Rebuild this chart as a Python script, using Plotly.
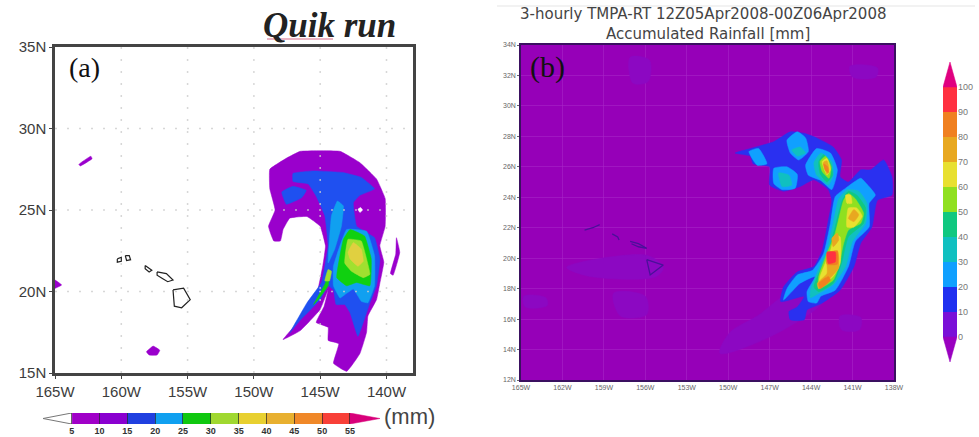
import plotly.graph_objects as go

W, H = 979, 437

# ---------- tick data ----------
a_lon_ticks = [-165, -160, -155, -150, -145, -140]
a_lon_labels = ["165W", "160W", "155W", "150W", "145W", "140W"]
a_lat_ticks = [15, 20, 25, 30, 35]
a_lat_labels = ["15N", "20N", "25N", "30N", "35N"]
b_lon_ticks = [-165, -162, -159, -156, -153, -150, -147, -144, -141, -138]
b_lon_labels = ["165W", "162W", "159W", "156W", "153W", "150W", "147W", "144W", "141W", "138W"]
b_lat_ticks = [12, 14, 16, 18, 20, 22, 24, 26, 28, 30, 32, 34]
b_lat_labels = ["12N", "14N", "16N", "18N", "20N", "22N", "24N", "26N", "28N", "30N", "32N", "34N"]

# ---------- colour scales ----------
a_bar_edges = [5, 10, 15, 20, 25, 30, 35, 40, 45, 50, 55]
a_bar_colors = ["#a000c8", "#8a00d0", "#2040e0", "#10a0f0", "#10c810", "#a0d830",
                "#e8d030", "#e8b030", "#f08828", "#f84038"]
b_bar_edges = [0, 10, 20, 30, 40, 50, 60, 70, 80, 90]
b_bar_colors = ["#7a10d8", "#2030f0", "#10a0ff", "#10c0c0", "#10c880", "#90e020",
                "#e8e030", "#e8a820", "#f08020", "#ff3040"]

A_PURPLE = "#9a00cc"; A_BLUE = "#1f50f0"; A_LBLUE = "#10a0f0"; A_GREEN = "#10d010"
A_YGREEN = "#a0e030"; A_YELLOW = "#e0d040"
B_BG = "#9600b8"; B_PATCH = "#8c08c2"

# ---------- panel (a) contour regions, [lon, lat] ----------
a_outer = [[-148.8,27.5],[-147.5,28.2],[-146.5,28.6],[-143.5,28.6],[-142,27.9],[-140.75,26.9],[-140.1,25.7],
           [-140.1,24],[-140.5,22.8],[-140.2,21.8],[-140.5,20.5],[-140.75,19.5],[-141.4,18.5],[-141.5,17.5],
           [-142,16.2],[-143,15.1],[-144,15.6],[-143.6,16.8],[-144.4,17],[-144.4,17.8],[-145.3,18.1],
           [-144.7,19.1],[-144.4,20.1],[-145,18.9],[-146.5,17.6],[-147.8,17.05],[-146.5,18.3],[-145.3,19.7],
           [-144.8,21.6],[-144.6,22.8],[-145,24],[-146,24.6],[-147.3,24.5],[-147.8,23.8],[-148,23.1],
           [-148.5,23.1],[-148.9,24],[-148.4,25],[-148.8,26.3]]
a_streak_nw = [[-163.2,27.8],[-162.3,28.3],[-162.2,28.15],[-163.1,27.7]]
a_blob_s = [[-158.1,16.3],[-157.6,16.65],[-157.1,16.4],[-157.3,16.1],[-157.9,16.1]]
a_blob_w = [[-165,20.7],[-164.5,20.4],[-165,20.2]]
a_streak_e = [[-139.25,23.3],[-139,22.4],[-139.5,21],[-139.7,21.1],[-139.3,22.3]]
a_blue = [[-147.05,27.25],[-145.5,27.4],[-143.3,27.3],[-141.9,27],[-140.9,26.3],[-142,25.9],[-142.5,25.45],
          [-142.25,24],[-140.9,23.3],[-140.5,22],[-140.75,20.35],[-141.25,19.3],[-141.75,18.1],[-142.15,17.25],
          [-142.75,18.7],[-143.15,19.2],[-143.8,19.2],[-144,20.1],[-144.4,20.35],[-145,19.5],[-146.55,18.2],
          [-147.3,17.45],[-146,19.3],[-144.9,20.55],[-144.65,21.55],[-144.4,22.8],[-144.65,24.65],
          [-145.3,25.85],[-145.9,26.6],[-147.05,26.75]]
a_blue_blob = [[-147.9,26.1],[-147.05,26.45],[-146.05,26.2],[-146.4,25.75],[-147.55,25.35]]
a_lblue_band = [[-143.7,25.55],[-143.25,25.25],[-143.4,24],[-143.9,22.6],[-144.4,21.75],[-144.3,23.2],[-144.15,24.65]]
a_lblue_core = [[-144,21.55],[-143,23.8],[-141.5,23.7],[-140.9,22.2],[-140.9,20.35],[-141.4,19.3],[-141.9,19.4],
                [-142.5,20.15],[-143.15,19.8],[-143.5,19.6],[-144,20.35]]
a_green_core = [[-143.75,20.85],[-143.25,23.2],[-142.75,23.8],[-141.65,23.4],[-141.15,22],[-141.25,20.35],
                [-142.25,20.55],[-143,20.35]]
a_green_tail = [[-145.5,19.2],[-144.65,20.45],[-144.3,21.15],[-144.4,20.35],[-145.15,19.5]]
a_ygreen_core = [[-143.15,21.75],[-142.9,23.2],[-141.9,23.1],[-141.5,22],[-141.25,21.05],[-141.75,20.85],[-142.65,21.25]]
a_ygreen_tail = [[-144.4,21.35],[-144.15,21.25],[-144.3,20.65],[-144.65,20.65]]
a_yellow_core = [[-142.9,22.4],[-142.5,23],[-141.9,22.6],[-141.75,21.85],[-142.15,21.55],[-142.75,22]]
a_hole = [[-142.15,25.05],[-141.95,25.15],[-141.8,25],[-142,24.85]]

a_coast = [
    [[-156.1,20.1],[-155.3,20.2],[-154.8,19.5],[-155.45,19],[-156,19.1],[-156.1,20.1]],
    [[-157.3,21.2],[-156.6,21.1],[-156.1,20.7],[-156.5,20.6],[-156.9,20.8],[-157.3,21.0],[-157.3,21.2]],
    [[-158.2,21.6],[-157.7,21.3],[-157.9,21.2],[-158.2,21.4],[-158.2,21.6]],
    [[-159.7,22.2],[-159.4,22.2],[-159.3,21.95],[-159.6,21.9],[-159.7,22.2]],
    [[-160.3,22],[-160,22.1],[-160,21.85],[-160.3,21.8],[-160.3,22]],
]

# ---------- panel (b) rainfall regions, [lon, lat] ----------
b_patches = [
    [[-161.7,19.4],[-155.9,20.2],[-154.7,19.4],[-155.2,18.8],[-160,18.8]],
    [[-164.8,17.5],[-163.2,17.4],[-163.1,16.9],[-164.7,16.8]],
    [[-158.3,17.7],[-156,17.5],[-155.9,16.3],[-157.8,16.2]],
    [[-150.6,13.75],[-146.5,15.05],[-143.1,17.25],[-145.5,17.7],[-147.9,16.2],[-149.9,15.1]],
    [[-157.1,33.2],[-155.7,33],[-155.8,31.6],[-156.9,31.5]],
    [[-141.2,32.6],[-139.2,32.5],[-139.3,31.9],[-141,31.9]],
    [[-141.9,16.2],[-140.4,16.1],[-140.5,15.3],[-141.8,15.3]],
]
b_blue = [[-149.5,26.9],[-148.4,27.2],[-146.7,27.65],[-145.5,28.3],[-144.5,28.2],[-143.6,27.9],[-142.4,27.3],
          [-141.8,26.45],[-141.9,25.35],[-141.3,25],[-140.4,25.8],[-139.7,25.8],[-138.75,26.45],[-138.15,25.35],
          [-138.15,24.15],[-139.2,23.8],[-139.6,22.05],[-140.4,21],[-140.9,19.45],[-141.9,17.9],[-143.3,17],
          [-144.3,16.6],[-144.5,15.95],[-145.5,15.95],[-145.6,16.5],[-145,16.8],[-144.5,17.5],[-146.2,17.15],
          [-146,18.1],[-145,19.1],[-143.8,19.45],[-143.2,20.5],[-142.75,22.5],[-142.5,23.8],[-142.75,24.5],
          [-143.8,25.15],[-144.8,24.7],[-146,24.4],[-147,24.8],[-147,26],[-148.2,26.2],[-148.4,26.7]]
b_lb1 = [[-148.5,27],[-147.8,27.2],[-147.2,26.2],[-147.9,26.1]]
b_lb2 = [[-146.7,25.9],[-145.75,26],[-145,25.5],[-145.15,24.6],[-146.1,24.5],[-146.7,24.9]]
b_lb3 = [[-145.75,27.75],[-145,28.3],[-144.4,27.9],[-144.2,27],[-144.9,26.45],[-145.5,26.9]]
b_lb4 = [[-144.4,26.1],[-143.6,27.2],[-142.6,26.9],[-142.1,25.8],[-142.5,24.5],[-143.3,25.1],[-144.2,25.45]]
b_lb5 = [[-142.25,24.05],[-141.5,24.6],[-140.4,25.25],[-140,24.9],[-139.35,24.15],[-139.8,23.6],[-139.8,22.05],
         [-140.8,21.1],[-141.3,19.45],[-142.25,17.9],[-143.3,17.5],[-143.6,17.05],[-144.2,17.15],[-144.3,17.8],
         [-143.7,18.8],[-144.8,18.35],[-146,17.25],[-145.75,18],[-145,18.9],[-143.9,19.2],[-143.1,20.3],[-142.6,22.3]]
b_teal1 = [[-145.4,27.1],[-144.8,27.3],[-144.4,26.9],[-145,26.7]]
b_teal2 = [[-146.35,25.6],[-145.6,25.45],[-145.4,24.8],[-146.1,24.7]]
b_teal3 = [[-143.8,26.25],[-143.3,26.9],[-142.5,26.35],[-142.4,25.45],[-142.75,24.8],[-143.6,25.45]]
b_teal4 = [[-142,23.9],[-141.4,24.5],[-140.55,24.4],[-139.95,23.6],[-140.05,22.3],[-141,21.1],[-141.5,19.45],
           [-142.4,18.25],[-143.6,17.6],[-144.05,17.4],[-144.05,17.9],[-143.45,19.3],[-142.85,20.55],[-142.4,22.3]]
b_green1 = [[-143.45,26.35],[-143.1,26.8],[-142.6,26.25],[-142.45,25.45],[-142.85,25],[-143.35,25.55]]
b_green2 = [[-141.75,23.8],[-141.3,24.4],[-140.7,24.15],[-140.05,23.3],[-140.2,22.3],[-141.3,21.4],[-141.8,19.65],
            [-142.4,18.35],[-143.45,17.8],[-143.8,18.1],[-143.35,19.2],[-142.75,20.4],[-142.25,22.1]]
b_yg1 = [[-143.35,26.35],[-142.95,26.7],[-142.55,26],[-142.7,25.25],[-143.2,25.7]]
b_yg2 = [[-141.65,23.8],[-141.3,24.25],[-140.8,23.9],[-140.2,22.95],[-140.4,22.3],[-141.3,21.85],[-141.65,20.95],
         [-142,19.45],[-142.4,18.55],[-143.45,18],[-143.45,18.8],[-142.85,20.3],[-142.25,21.65]]
b_yel1 = [[-143.2,26.35],[-142.85,26.55],[-142.6,25.8],[-142.85,25.45]]
b_yel2 = [[-141.5,24.15],[-141.15,24.15],[-141.05,23.6],[-141.4,23.6]]
b_yel3 = [[-141.3,23.3],[-140.7,23.3],[-140.3,22.75],[-140.9,22.05],[-141.4,22.05]]
b_yel4 = [[-142.6,20.5],[-142.25,21.5],[-141.9,21.4],[-141.9,19.65],[-142.4,18.8],[-143.45,18.1],[-143.35,18.8]]
b_or1 = [[-143.1,26.3],[-142.85,26.4],[-142.7,25.8],[-142.85,25.5]]
b_or2 = [[-140.9,23.2],[-140.55,22.85],[-140.9,22.4],[-141.3,22.6]]
b_or3 = [[-142.5,21.3],[-142.1,21.65],[-142,21.2],[-142.4,20.75]]
b_or4 = [[-142.85,20.3],[-142.1,20.5],[-142,19.35],[-142.4,18.9],[-143.45,18],[-143.55,18.35],[-142.85,19]]
b_do1 = [[-143.1,26.2],[-142.8,26],[-142.75,25.6],[-143,25.8]]
b_do2 = [[-142.85,20.3],[-142.1,20.45],[-142.1,19.6],[-142.85,19.6]]
b_do3 = [[-143.45,18.35],[-142.75,18.8],[-142.6,18.55],[-143.35,18]]
b_red = [[-142.85,20.4],[-142.25,20.4],[-142.25,19.75],[-142.75,19.65]]
b_coast = [
    [[-160.4,21.85],[-159.8,22],[-159.3,22.2]],
    [[-158.4,21.6],[-158,21.4],[-157.9,21.2]],
    [[-157.1,21.1],[-156.5,20.95],[-155.9,20.65],[-156.5,20.75],[-157,20.95]],
    [[-155.9,19.9],[-154.7,19.55],[-155.65,18.9],[-155.9,19.9]],
]

fig = go.Figure()


def region(pts, color, ax, smoothing=None):
    line = dict(color=color, width=0.5)
    if smoothing:
        line.update(shape="spline", smoothing=smoothing)
    fig.add_trace(go.Scatter(
        x=[p[0] for p in pts] + [pts[0][0]], y=[p[1] for p in pts] + [pts[0][1]],
        mode="lines", fill="toself", fillcolor=color, line=line,
        hoverinfo="skip", showlegend=False, xaxis="x" + ax, yaxis="y" + ax))


def outline(pts, color, width, ax):
    fig.add_trace(go.Scatter(
        x=[p[0] for p in pts], y=[p[1] for p in pts], mode="lines",
        line=dict(color=color, width=width), hoverinfo="skip", showlegend=False,
        xaxis="x" + ax, yaxis="y" + ax))


# panel (a)
for pts, c in [(a_outer, A_PURPLE), (a_streak_nw, A_PURPLE), (a_blob_s, A_PURPLE), (a_blob_w, A_PURPLE),
               (a_streak_e, A_PURPLE), (a_blue, A_BLUE), (a_blue_blob, A_BLUE), (a_lblue_band, A_LBLUE),
               (a_lblue_core, A_LBLUE), (a_green_core, A_GREEN), (a_green_tail, A_GREEN),
               (a_ygreen_core, A_YGREEN), (a_ygreen_tail, A_YGREEN), (a_yellow_core, A_YELLOW), (a_hole, "#ffffff")]:
    region(pts, c, "", 0.3)
for pts in a_coast:
    outline(pts, "#222222", 1.2, "")

# dotted graticule of panel (a), drawn over the filled regions
gx, gy = [], []
for lon in a_lon_ticks[1:]:
    gx += [lon, lon, None]; gy += [15, 35, None]
for lat in a_lat_ticks[1:-1]:
    gx += [-165, -138, None]; gy += [lat, lat, None]
fig.add_trace(go.Scatter(x=gx, y=gy, mode="lines", hoverinfo="skip", showlegend=False,
                         line=dict(color="rgba(205,205,205,0.8)", width=1.5, dash="2px,10px")))

# panel (b)
for pts in b_patches:
    region(pts, B_PATCH, "2", 0.9)
for pts, c in [(b_blue, "#2a30f0"), (b_lb1, "#10a0ff"), (b_lb2, "#10a0ff"), (b_lb3, "#10a0ff"), (b_lb4, "#10a0ff"),
               (b_lb5, "#10a0ff"), (b_teal1, "#10c0c0"), (b_teal2, "#10c0c0"), (b_teal3, "#10c0c0"), (b_teal4, "#10c0c0"),
               (b_green1, "#10c880"), (b_green2, "#10c880"), (b_yg1, "#90e020"), (b_yg2, "#90e020"),
               (b_yel1, "#e8e030"), (b_yel2, "#e8e030"), (b_yel3, "#e8e030"), (b_yel4, "#e8e030"),
               (b_or1, "#e8a820"), (b_or2, "#e8a820"), (b_or3, "#e8a820"), (b_or4, "#e8a820"),
               (b_do1, "#f08020"), (b_do2, "#f08020"), (b_do3, "#f08020"), (b_red, "#ff3040")]:
    region(pts, c, "2", 0.5)
for pts in b_coast:
    outline(pts, "#4a109a", 1.3, "2")

# colour bar (a)
fig.add_trace(go.Bar(y=[0.5] * 10, x=[5] * 10, base=a_bar_edges[:10], orientation="h", width=1,
                     marker=dict(color=a_bar_colors, line=dict(width=0)), hoverinfo="skip", showlegend=False,
                     xaxis="x3", yaxis="y3"))
region([[5, 0], [-0.15, 0.5], [5, 1]], "#ffffff", "3")
outline([[5, 0], [-0.15, 0.5], [5, 1]], "#777777", 1, "3")
region([[55, 0], [60.4, 0.5], [55, 1]], "#d8007a", "3")

# colour bar (b)
fig.add_trace(go.Bar(x=[0.5] * 10, y=[10] * 10, base=b_bar_edges, width=1,
                     marker=dict(color=b_bar_colors, line=dict(width=0)), hoverinfo="skip", showlegend=False,
                     xaxis="x4", yaxis="y4"))
region([[0, 0], [0.5, -10], [1, 0]], "#9a00c0", "4")
region([[0, 100], [0.5, 110], [1, 100]], "#e00080", "4")

tick_a = dict(family="Liberation Sans", size=15, color="#3c3c3c")
tick_b = dict(family="Liberation Sans", size=7, color="#666666")


def px_x(a, b):
    return [a / W, b / W]


def px_y(top, bottom):
    return [1 - bottom / H, 1 - top / H]


fig.update_layout(
    width=W, height=H, autosize=False, margin=dict(l=0, r=0, t=0, b=0),
    paper_bgcolor="white", plot_bgcolor="white", showlegend=False, bargap=0,
    xaxis=dict(domain=px_x(55, 413), range=[-165, -138], tickvals=a_lon_ticks, ticktext=a_lon_labels, tickfont=tick_a,
               ticks="outside", ticklen=3, tickcolor="#444", showgrid=False, zeroline=False, showline=True,
               linecolor="#444", linewidth=2.5, mirror=True, anchor="y", tickangle=0, automargin=False),
    yaxis=dict(domain=px_y(47, 373), range=[15, 35], tickvals=a_lat_ticks, ticktext=a_lat_labels, tickfont=tick_a,
               ticks="outside", ticklen=3, tickcolor="#444", showgrid=False, zeroline=False, showline=True,
               linecolor="#444", linewidth=2.5, mirror=True, anchor="x", automargin=False),
    xaxis2=dict(domain=px_x(521, 894), range=[-165, -138], tickvals=b_lon_ticks, ticktext=b_lon_labels, tickfont=tick_b,
                ticks="", showgrid=True, gridcolor="rgba(170,40,200,0.55)",
                gridwidth=1, zeroline=False, showline=True, linecolor="#3a1060", linewidth=1.5, mirror=True, anchor="y2",
                tickangle=0, automargin=False),
    yaxis2=dict(domain=px_y(45, 380), range=[12, 34], tickvals=b_lat_ticks, ticktext=b_lat_labels, tickfont=tick_b,
                ticks="outside", ticklen=2, tickcolor="#666", showgrid=True, gridcolor="rgba(170,40,200,0.55)",
                gridwidth=1, zeroline=False, showline=True, linecolor="#3a1060", linewidth=1.5, mirror=True, anchor="x2",
                automargin=False),
    xaxis3=dict(domain=px_x(43, 380), range=[-0.15, 60.4], tickvals=a_bar_edges,
                ticktext=["<b>%d</b>" % v for v in a_bar_edges],
                tickfont=dict(family="Liberation Sans", size=9, color="#333333"), ticks="inside", ticklen=11,
                tickcolor="rgba(40,40,40,0.7)", showgrid=False, zeroline=False, anchor="y3", layer="above traces",
                tickangle=0, automargin=False),
    yaxis3=dict(domain=px_y(413, 424), range=[0, 1], visible=False, anchor="x3", automargin=False),
    xaxis4=dict(domain=px_x(943, 957), range=[0, 1], visible=False, anchor="y4", automargin=False),
    yaxis4=dict(domain=px_y(62, 362), range=[-10, 110], side="right", tickvals=[0, 10, 20, 30, 40, 50, 60, 70, 80, 90, 100],
                tickfont=dict(family="Liberation Sans", size=9, color="#777777"), ticks="", showgrid=False,
                zeroline=False, anchor="x4", automargin=False),
)


def note(text, x, y, size, family, color="#111111", xanchor="center"):
    fig.add_annotation(text=text, xref="paper", yref="paper", x=x / W, y=1 - y / H, showarrow=False,
                       font=dict(family=family, size=size, color=color), xanchor=xanchor, yanchor="middle")


note("<b><i>Quik run</i></b>", 329, 25, 35, "Liberation Serif", "#222222")
note("(a)", 84, 68, 28, "Liberation Serif")
note("(b)", 547, 67, 30, "Liberation Serif")
note("(mm)", 409, 416, 22, "Liberation Sans", "#444444")
note("3-hourly TMPA-RT 12Z05Apr2008-00Z06Apr2008", 703, 14, 15, "DejaVu Sans", "#444444")
note("Accumulated Rainfall [mm]", 708, 33.5, 15, "DejaVu Sans", "#444444")

fig.add_shape(type="rect", xref="x2 domain", yref="y2 domain", x0=0, x1=1, y0=0, y1=1,
              fillcolor=B_BG, line_width=0, layer="below")
fig.add_shape(type="line", xref="paper", yref="paper", x0=267 / W, x1=333 / W, y0=1 - 39 / H, y1=1 - 39 / H,
              line=dict(color="#d86a88", width=1.2))
fig.add_shape(type="line", xref="paper", yref="paper", x0=497 / W, x1=975 / W, y0=1 - 6 / H, y1=1 - 6 / H,
              line=dict(color="#f2f2f2", width=2))

fig.write_html("out.html", config=dict(displayModeBar=False),
               post_script="document.body.style.margin='0';document.documentElement.style.overflow='hidden';")
